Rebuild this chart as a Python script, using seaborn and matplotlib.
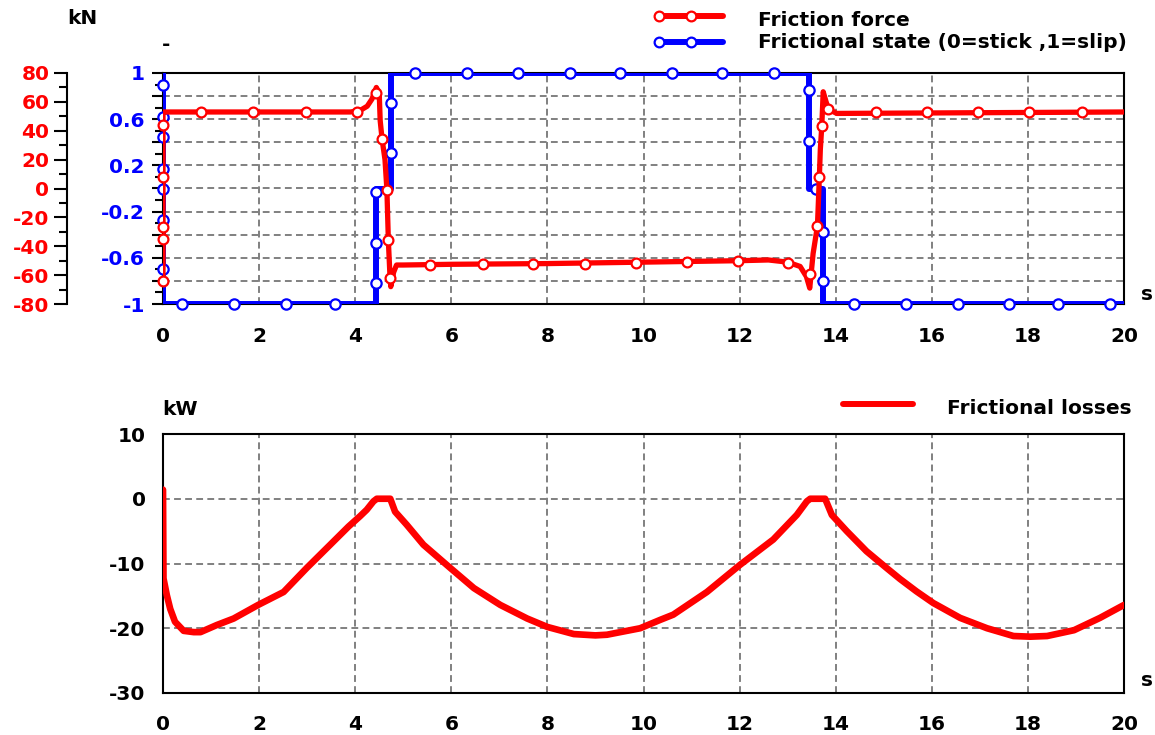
import matplotlib
matplotlib.use("Agg")
import matplotlib.pyplot as plt
from matplotlib.lines import Line2D
from matplotlib.ticker import MultipleLocator, FuncFormatter
import seaborn as sns

# ---------------- data ----------------
# Friction force [kN] over time [s]
force_t = [0.0, 0.0, 0.03, 3.9, 4.1, 4.25, 4.35, 4.44, 4.50, 4.52, 4.56, 4.62, 4.66,
           4.69, 4.72, 4.74, 4.80, 4.86, 5.0, 6.0, 8.0, 10.0, 12.0, 12.6, 13.0,
           13.26, 13.39, 13.46, 13.53, 13.62, 13.66, 13.68, 13.71, 13.74, 13.80,
           13.85, 14.02, 20.0]
force_kN = [-66, 53, 53, 53, 54, 57, 62, 70, 66, 47, 34, 20, -1,
            -36, -58, -68, -58, -53, -53, -52.5, -52, -51, -50, -49.5, -51,
            -54, -61, -69, -45, -26, 8, 27, 43, 67, 60,
            55, 52, 53]
force_mark_t = [0, 0, 0, 0, 0, 0.79, 1.87, 2.98, 4.03, 4.44, 4.56, 4.67, 4.69, 4.73,
                5.56, 6.66, 7.70, 8.78, 9.84, 10.90, 11.97, 13.01, 13.47, 13.62,
                13.66, 13.71, 13.85, 14.83, 15.90, 16.96, 18.03, 19.13]
force_mark_kN = [44, 8, -27, -35, -64, 53, 53, 53, 53, 66, 34, -1, -36, -62,
                 -53, -52.5, -52, -52, -51.5, -51, -50, -51.5, -59, -26,
                 8, 43, 55, 53, 53, 53, 53, 53]

# Frictional state (0 = stick, 1 = slip)
state_t = [0.0, 0.0, 4.44, 4.44, 4.74, 4.74, 13.45, 13.45, 13.74, 13.74, 20.0]
state_val = [1, -1, -1, 0, 0, 1, 1, 0, 0, -1, -1]
state_mark_t = [0, 0, 0, 0, 0, 0, 0, 0.39, 1.48, 2.55, 3.59, 4.44, 4.44, 4.44,
                4.74, 4.74, 5.24, 6.33, 7.39, 8.47, 9.51, 10.59, 11.63, 12.71,
                13.45, 13.45, 13.58, 13.74, 13.74, 14.38, 15.46, 16.54, 17.60,
                18.63, 19.71]
state_mark_val = [0.9, 0.62, 0.45, 0.17, 0.0, -0.27, -0.7, -1, -1, -1, -1, -0.82, -0.47,
                  -0.03, 0.31, 0.74, 1, 1, 1, 1, 1, 1, 1, 1,
                  0.85, 0.41, 0.0, -0.38, -0.8, -1, -1, -1, -1,
                  -1, -1]

# Frictional losses [kW]
loss_t = [0.0, 0.01, 0.08, 0.15, 0.25, 0.43, 0.64, 0.78, 1.12, 1.47, 1.98, 2.51,
          2.99, 3.48, 3.86, 4.10, 4.24, 4.38, 4.45, 4.73, 4.83, 5.07, 5.42, 5.98,
          6.47, 7.02, 7.58, 8.0, 8.55, 9.0, 9.24, 9.93, 10.35, 10.62, 11.32, 12.01,
          12.7, 13.19, 13.4, 13.47, 13.78, 13.92, 14.23, 14.64, 15.06, 15.34, 15.68,
          16.03, 16.59, 17.15, 17.7, 18.05, 18.4, 18.96, 19.5, 20.0]
loss_kW = [1.4, -12.3, -14.9, -17.0, -19.0, -20.4, -20.6, -20.6, -19.5, -18.5, -16.4, -14.4,
           -10.7, -7.1, -4.3, -2.7, -1.7, -0.4, 0.0, 0.0, -2.0, -4.0, -7.1, -10.7,
           -13.8, -16.4, -18.5, -19.8, -20.9, -21.1, -21.0, -20.0, -18.7, -17.9, -14.4, -10.2,
           -6.3, -2.5, -0.4, 0.0, 0.0, -2.5, -5.0, -8.1, -10.7, -12.4, -14.3,
           -16.1, -18.4, -20.0, -21.2, -21.3, -21.2, -20.3, -18.4, -16.4]

state_labels = [1, 0.6, 0.2, -0.2, -0.6, -1]

RED = "#ff0000"
BLUE = "#0000ff"
GRID = "#808080"

# ---------------- style ----------------
sns.set_theme(style="white")
plt.rcParams["font.family"] = ["DejaVu Sans"]
FS = 14.5
plt.rcParams.update({
    "font.weight": "bold",
    "font.size": FS,
    "axes.unicode_minus": False,
    "axes.linewidth": 1.5,
    "axes.edgecolor": "black",
    "xtick.color": "black",
    "ytick.color": "black",
    "xtick.labelsize": FS,
    "ytick.labelsize": FS,
})

W, H = 1155, 735
fig = plt.figure(figsize=(W / 100, H / 100), dpi=100)


def fx(px):
    return px / W


def fy(py):
    return 1 - py / H


def style_ticks(axis, which_axis, major_len=8.6, minor_len=5.5, pad=4):
    axis.tick_params(axis=which_axis, which="major", direction="out", length=major_len,
                     width=1.5, pad=pad)
    axis.tick_params(axis=which_axis, which="minor", direction="out", length=minor_len,
                     width=1.5)


grid_kw = dict(color=GRID, linestyle=(0, (3.5, 2.2)), linewidth=1.4)

# ---------------- upper panel: force and state ----------------
ax = fig.add_axes([fx(163), fy(304), fx(1124) - fx(163), fy(73) - fy(304)])
ax_r = ax.twinx()

ax.set_xlim(0, 20)
ax.set_ylim(-1, 1)
ax.xaxis.set_major_locator(MultipleLocator(2))
ax.xaxis.set_minor_locator(MultipleLocator(2 / 12))
ax.yaxis.set_major_locator(MultipleLocator(0.2))
ax.yaxis.set_minor_locator(MultipleLocator(0.1))


def state_fmt(v, pos):
    r = round(v, 1)
    for lab in state_labels:
        if abs(r - lab) < 1e-6:
            return f"{lab:g}"
    return ""


ax.yaxis.set_major_formatter(FuncFormatter(state_fmt))
ax.grid(True, which="major", **grid_kw)
ax.set_axisbelow(True)
style_ticks(ax, "x", pad=8)
style_ticks(ax, "y", major_len=8, minor_len=5.5, pad=5)
ax.tick_params(axis="y", labelcolor=BLUE)
for s in ax.spines.values():
    s.set_visible(True)
    s.set_linewidth(1.5)
    s.set_color("black")

sns.lineplot(x=state_t, y=state_val, sort=False, estimator=None, ax=ax,
             color=BLUE, linewidth=4.3, zorder=3)
sns.scatterplot(x=state_mark_t, y=state_mark_val, ax=ax, s=55, facecolor="white",
                edgecolor=BLUE, linewidth=1.6, zorder=4, clip_on=False)

ax_r.set_ylim(-80, 80)
ax_r.yaxis.set_major_locator(MultipleLocator(20))
ax_r.yaxis.set_minor_locator(MultipleLocator(10))
ax_r.yaxis.tick_left()
ax_r.yaxis.set_label_position("left")
ax_r.spines["left"].set_position(("outward", 69.3))
ax_r.spines["left"].set_visible(True)
ax_r.spines["left"].set_linewidth(1.5)
for side in ("right", "top", "bottom"):
    ax_r.spines[side].set_visible(False)
style_ticks(ax_r, "y", major_len=9.5, minor_len=5.5, pad=3)
ax_r.tick_params(axis="y", labelcolor=RED)

sns.lineplot(x=force_t, y=force_kN, sort=False, estimator=None, ax=ax_r,
             color=RED, linewidth=3.8, zorder=3)
sns.scatterplot(x=force_mark_t, y=force_mark_kN, ax=ax_r, s=50, facecolor="white",
                edgecolor=RED, linewidth=1.6, zorder=4, clip_on=False)

for a in (ax, ax_r):
    a.set_xlabel("")
    a.set_ylabel("")

# ---------------- lower panel: frictional losses ----------------
ax2 = fig.add_axes([fx(163), fy(693), fx(1124) - fx(163), fy(434) - fy(693)])
ax2.set_xlim(0, 20)
ax2.set_ylim(-30, 10)
ax2.xaxis.set_major_locator(MultipleLocator(2))
ax2.xaxis.set_minor_locator(MultipleLocator(2 / 12))
ax2.yaxis.set_major_locator(MultipleLocator(10))
ax2.yaxis.set_minor_locator(MultipleLocator(2))
ax2.grid(True, which="major", **grid_kw)
ax2.set_axisbelow(True)
style_ticks(ax2, "x", pad=7)
style_ticks(ax2, "y", major_len=9.5, minor_len=5.5, pad=3)
for s in ax2.spines.values():
    s.set_visible(True)
    s.set_linewidth(1.5)
    s.set_color("black")

sns.lineplot(x=loss_t, y=loss_kW, sort=False, estimator=None, ax=ax2,
             color=RED, linewidth=4.8, zorder=3)
ax2.set_xlabel("")
ax2.set_ylabel("")

# ---------------- units ----------------
for px, py, txt in [(82, 19, "kN"), (166, 44, "-"), (1147, 294, "s"),
                    (180, 410, "kW"), (1147, 681, "s")]:
    fig.text(fx(px), fy(py), txt, ha="center", va="center", fontsize=FS, color="black")

# ---------------- legends ----------------
def legend_entry(x0, x1, y_line, x_text, y_text, color, label, marker_xs=()):
    fig.add_artist(Line2D([fx(x0), fx(x1)], [fy(y_line), fy(y_line)],
                          transform=fig.transFigure, color=color, linewidth=4.3))
    if marker_xs:
        fig.add_artist(Line2D([fx(m) for m in marker_xs], [fy(y_line)] * len(marker_xs),
                              transform=fig.transFigure, linestyle="none", marker="o",
                              markersize=7, markerfacecolor="white",
                              markeredgecolor=color, markeredgewidth=1.6))
    fig.text(fx(x_text), fy(y_text), label, ha="left", va="center",
             fontsize=FS, color="black")


legend_entry(657, 723, 16, 758, 21, RED, "Friction force", (659, 691))
legend_entry(657, 723, 42, 758, 42, BLUE, "Frictional state (0=stick ,1=slip)", (659, 691))
legend_entry(843, 913, 404, 947, 409, RED, "Frictional losses")

fig.savefig("out.png", dpi=100)
